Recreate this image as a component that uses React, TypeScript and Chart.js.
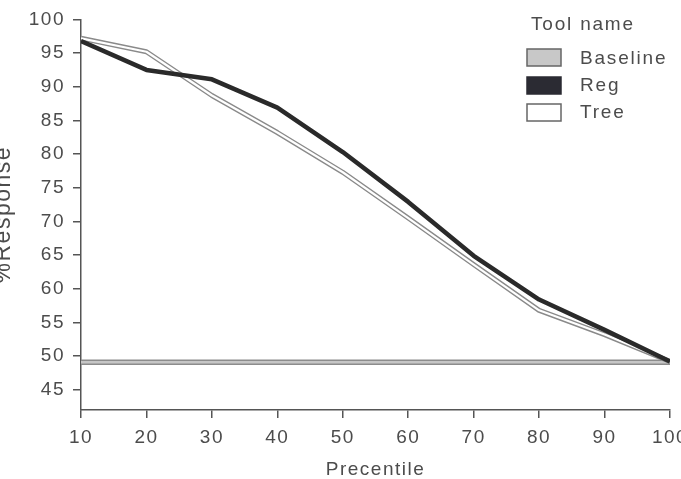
import React, { useEffect, useRef } from "react";
import { Chart, registerables } from "chart.js";

Chart.register(...registerables);

const percentiles = [10, 20, 30, 40, 50, 60, 70, 80, 90, 100];
const baselineValues = [49.1, 49.1, 49.1, 49.1, 49.1, 49.1, 49.1, 49.1, 49.1, 49.1];
const regValues = [96.8, 92.5, 91.1, 86.9, 80.3, 72.9, 64.9, 58.4, 53.9, 49.2];
const treeValues = [97.2, 95.2, 88.7, 83.2, 77.3, 70.5, 63.6, 56.8, 53.2, 49.2];
const yTickValues = [45, 50, 55, 60, 65, 70, 75, 80, 85, 90, 95, 100];
const seriesNames = ["Baseline", "Reg", "Tree"];
const legendTitle = "Tool name";
const xTitle = "Precentile";
const yTitle = "%Response";

const FONT = "'Liberation Sans', Arial, Helvetica, sans-serif";
const TEXT = "#4c4c4c";
const AXIS = "#555555";
const OFFSET_X = 12; // canvas shifted left by this many px
const SPACING = "1.5px";

const spacingPlugin = {
  id: "letterSpacing",
  beforeLayout(chart: any) {
    (chart.ctx as any).letterSpacing = SPACING;
  },
  beforeDraw(chart: any) {
    (chart.ctx as any).letterSpacing = SPACING;
  },
};

const legendPlugin = {
  id: "customLegend",
  afterDraw(chart: any) {
    const ctx = chart.ctx as CanvasRenderingContext2D;
    ctx.save();
    const ox = OFFSET_X;
    ctx.fillStyle = TEXT;
    ctx.font = `19px ${FONT}`;
    (ctx as any).letterSpacing = "1.8px";
    ctx.textBaseline = "alphabetic";
    ctx.textAlign = "left";
    ctx.fillText(legendTitle, 531 + ox, 30);
    const fills = ["#c8c8c8", "#2b2b33", "#ffffff"];
    const strokes = ["#666666", "#2b2b33", "#666666"];
    const boxTops = [49, 77, 104];
    const baselines = [64, 91, 118];
    seriesNames.forEach((name, i) => {
      ctx.fillStyle = fills[i];
      ctx.fillRect(527 + ox, boxTops[i], 34, 17);
      ctx.strokeStyle = strokes[i];
      ctx.lineWidth = 1.5;
      ctx.strokeRect(527 + ox, boxTops[i], 34, 17);
      ctx.fillStyle = TEXT;
      ctx.fillText(name, 580 + ox, baselines[i]);
    });
    ctx.restore();
  },
};

export default function App() {
  const canvasRef = useRef<HTMLCanvasElement | null>(null);

  useEffect(() => {
    if (!canvasRef.current) return;
    const pts = (vals: number[]) => percentiles.map((p, i) => ({ x: p, y: vals[i] }));
    const chart = new Chart(canvasRef.current, {
      type: "line",
      data: {
        datasets: [
          {
            label: "Reg",
            data: pts(regValues),
            borderColor: "#2a2a2a",
            borderWidth: 4.5,
            pointRadius: 0,
            tension: 0,
            borderJoinStyle: "round",
            order: 1,
          },
          {
            label: "Tree inner",
            data: pts(treeValues),
            borderColor: "#ffffff",
            borderWidth: 2.2,
            pointRadius: 0,
            tension: 0,
            borderJoinStyle: "round",
            order: 2,
          },
          {
            label: "Tree",
            data: pts(treeValues),
            borderColor: "#8a8a8a",
            borderWidth: 5,
            pointRadius: 0,
            tension: 0,
            borderJoinStyle: "round",
            order: 3,
          },
          {
            label: "Baseline inner",
            data: pts(baselineValues),
            borderColor: "#c6c6c6",
            borderWidth: 2.5,
            pointRadius: 0,
            tension: 0,
            order: 4,
          },
          {
            label: "Baseline",
            data: pts(baselineValues),
            borderColor: "#8c8c8c",
            borderWidth: 5.5,
            pointRadius: 0,
            tension: 0,
            order: 5,
          },
        ],
      },
      options: {
        responsive: false,
        animation: false,
        layout: { padding: { top: 15, right: 22, left: 0, bottom: 18.6 } },
        plugins: {
          legend: { display: false },
          tooltip: { enabled: false },
        },
        scales: {
          x: {
            type: "linear",
            min: 10,
            max: 100,
            ticks: {
              stepSize: 10,
              color: TEXT,
              font: { family: FONT, size: 19 },
              padding: 8,
              maxRotation: 0,
            },
            grid: {
              drawOnChartArea: false,
              drawTicks: true,
              tickLength: 8,
              color: AXIS,
              lineWidth: 1.5,
            },
            border: { display: true, color: AXIS, width: 1.5 },
            title: {
              display: true,
              text: xTitle,
              color: TEXT,
              font: { family: FONT, size: 19 },
              padding: 0,
            },
            afterFit(scale: any) {
              scale.height = 71.4;
              scale.paddingRight = 0;
              scale.paddingLeft = 0;
            },
          },
          y: {
            type: "linear",
            min: 42,
            max: 100,
            afterBuildTicks(scale: any) {
              scale.ticks = yTickValues.map((v) => ({ value: v }));
            },
            ticks: {
              color: TEXT,
              font: { family: FONT, size: 19 },
              padding: 8,
            },
            grid: {
              drawOnChartArea: false,
              drawTicks: true,
              tickLength: 8,
              color: AXIS,
              lineWidth: 1.5,
            },
            border: { display: true, color: AXIS, width: 1.5 },
            title: {
              display: true,
              text: yTitle,
              color: TEXT,
              font: { family: FONT, size: 23 },
              padding: { top: 2, bottom: 0 },
            },
            afterFit(scale: any) {
              scale.width = 93;
            },
          },
        },
      },
      plugins: [spacingPlugin, legendPlugin],
    });
    return () => chart.destroy();
  }, []);

  return (
    <div
      style={{
        position: "fixed",
        left: 0,
        top: 0,
        width: 681,
        height: 479,
        overflow: "hidden",
        background: "#ffffff",
      }}
    >
      <canvas
        ref={canvasRef}
        width={704}
        height={500}
        style={{ position: "absolute", left: -OFFSET_X, top: 0, width: 704, height: 500 }}
      />
    </div>
  );
}
